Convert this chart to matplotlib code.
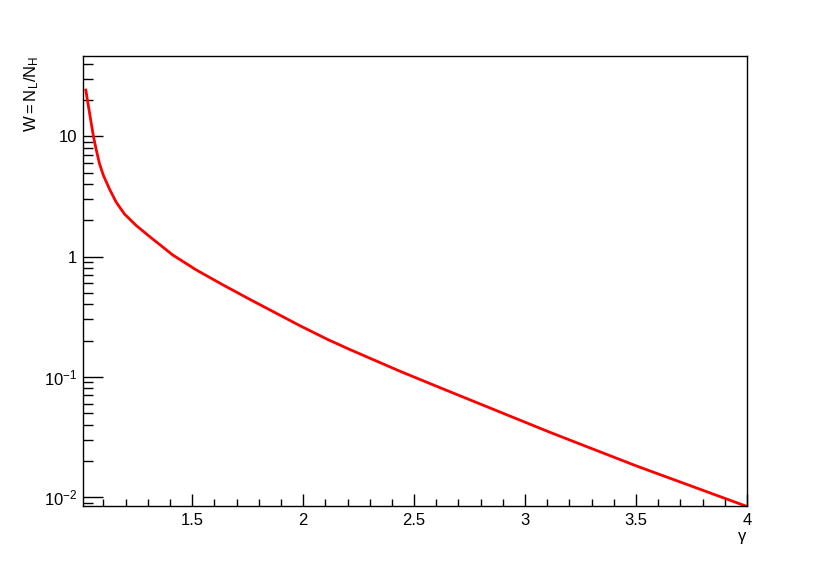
import matplotlib
matplotlib.use('Agg')
import matplotlib.pyplot as plt
from matplotlib.ticker import FixedLocator, MultipleLocator, NullFormatter

plt.rcParams['font.family'] = ['Liberation Sans', 'DejaVu Sans']
plt.rcParams['mathtext.fontset'] = 'custom'
plt.rcParams['mathtext.rm'] = 'Liberation Sans'
plt.rcParams['mathtext.it'] = 'Liberation Sans'

# values
gamma = [1.0207, 1.028, 1.055, 1.067, 1.082, 1.100, 1.128, 1.157, 1.195, 1.247,
         1.308, 1.413, 1.518, 1.638, 1.759, 1.909, 1.988, 2.112, 2.213, 2.438,
         2.633, 2.889, 3.115, 3.5, 4.0]
W = [24.3, 20.0, 10.0, 7.85, 5.96, 4.73, 3.63, 2.85, 2.26, 1.82,
     1.47, 1.03, 0.776, 0.583, 0.442, 0.316, 0.265, 0.204, 0.168, 0.111,
     0.079, 0.0508, 0.0344, 0.0182, 0.00835]

ytick_vals = [0.01, 0.1, 1, 10]
ytick_labels = [r'$\mathregular{10^{-2}}$', r'$\mathregular{10^{-1}}$', '1', '10']
xtick_vals = [1.5, 2, 2.5, 3, 3.5, 4]
xtick_labels = ['1.5', '2', '2.5', '3', '3.5', '4']

fig = plt.figure(figsize=(8.3, 5.64), dpi=100)
ax = fig.add_axes([0.1, 0.102, 0.8, 0.799])

ax.plot(gamma, W, color='#ff0000', lw=2)

ax.set_yscale('log')
ax.set_xlim(1.008, 4.0)
ax.set_ylim(0.00835, 46.8)

ax.xaxis.set_major_locator(FixedLocator(xtick_vals))
ax.set_xticklabels(xtick_labels)
ax.xaxis.set_minor_locator(MultipleLocator(0.1))

minors = []
for dec in [0.001, 0.01, 0.1, 1, 10]:
    for k in range(2, 10):
        minors.append(k * dec)
ax.yaxis.set_major_locator(FixedLocator(ytick_vals))
ax.set_yticklabels(ytick_labels)
ax.yaxis.set_minor_locator(FixedLocator(minors))
ax.yaxis.set_minor_formatter(NullFormatter())

ax.tick_params(axis='both', which='both', direction='in', top=False, right=False,
               labelsize=12, width=1)
ax.tick_params(axis='x', which='major', length=9, pad=5)
ax.tick_params(axis='x', which='minor', length=4.8)
ax.tick_params(axis='y', which='major', length=14.4, pad=4)
ax.tick_params(axis='y', which='minor', length=7.2)

for s in ax.spines.values():
    s.set_linewidth(1)

ax.set_xlabel(r'$\mathregular{\gamma}$', fontsize=12, loc='right', labelpad=1)
ax.set_ylabel(r'$\mathregular{W=N_L/N_H}$', fontsize=12, loc='top')
ax.yaxis.set_label_coords(-0.063, 1.0)

fig.savefig('out.png', dpi=100)
